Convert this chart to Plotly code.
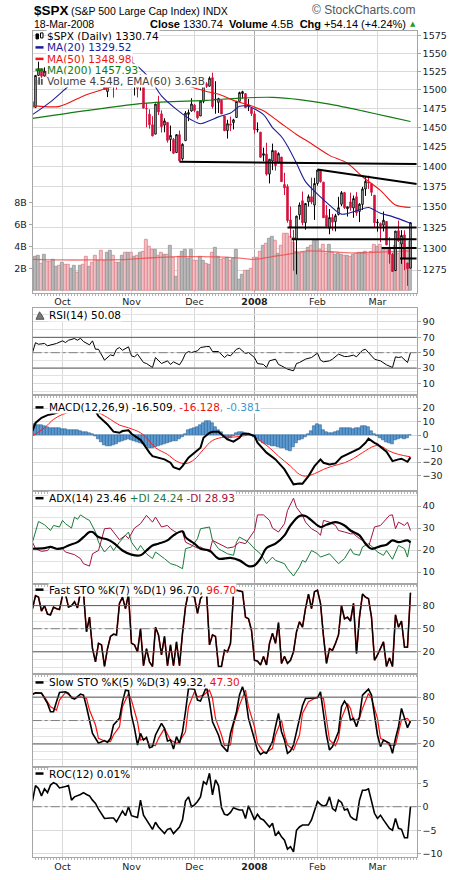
import math
import plotly.graph_objects as go

W, H = 460, 880

# ---------------- data ----------------
tick_days = [10, 33, 54, 74, 95, 115]
tick_text = ["Oct", "Nov", "Dec", "<b>2008</b>", "Feb", "Mar"]

opens = [1484.2, 1476.6, 1519.8, 1529.0, 1518.8, 1525.8, 1516.3, 1518.6, 1527.3, 1531.2,
         1527.3, 1547.0, 1545.8, 1539.9, 1543.8, 1556.5, 1553.2, 1565.2, 1564.7, 1555.4,
         1562.3, 1547.8, 1544.4, 1539.3, 1540.0, 1497.8, 1509.3, 1516.6, 1516.2, 1522.2,
         1536.9, 1539.4, 1532.2, 1545.8, 1511.1, 1505.6, 1505.3, 1515.5, 1475.3, 1467.6,
         1453.7, 1441.4, 1483.4, 1468.0, 1453.1, 1456.7, 1434.5, 1434.7, 1417.6, 1440.7,
         1409.6, 1432.9, 1467.4, 1471.8, 1479.6, 1471.3, 1465.2, 1484.6, 1508.6, 1505.1,
         1516.7, 1487.6, 1483.3, 1486.2, 1465.1, 1445.9, 1454.7, 1456.4, 1463.2, 1484.6,
         1495.1, 1495.1, 1479.8, 1475.3, 1468.0, 1447.6, 1444.0, 1414.1, 1415.7, 1390.3,
         1406.8, 1419.9, 1404.5, 1411.9, 1377.4, 1374.8, 1333.9, 1312.9, 1310.4, 1340.1,
         1357.3, 1330.7, 1355.9, 1362.2, 1352.0, 1378.6, 1395.4, 1380.3, 1339.5, 1324.0,
         1336.9, 1331.9, 1340.6, 1353.1, 1367.3, 1347.5, 1355.9, 1348.4, 1362.2, 1344.2,
         1352.8, 1371.8, 1379.0, 1378.2, 1364.1, 1330.5, 1329.6, 1327.7, 1332.2, 1301.5,
         1293.2, 1274.4, 1321.1, 1305.3, 1316.1, 1283.2, 1277.2]
highs = [1484.2, 1519.9, 1538.7, 1529.0, 1530.9, 1532.4, 1518.3, 1529.4, 1532.5, 1533.7,
         1549.0, 1548.0, 1545.8, 1544.0, 1561.9, 1556.5, 1565.3, 1565.4, 1576.1, 1563.0,
         1564.7, 1547.8, 1550.7, 1542.8, 1540.0, 1508.1, 1520.0, 1517.2, 1523.2, 1535.5,
         1544.7, 1539.4, 1552.8, 1545.8, 1513.2, 1510.8, 1520.8, 1515.5, 1482.5, 1474.1,
         1464.9, 1481.4, 1492.1, 1472.7, 1462.2, 1456.7, 1452.6, 1436.4, 1440.9, 1446.1,
         1429.5, 1471.6, 1473.8, 1488.9, 1481.2, 1471.3, 1486.1, 1508.0, 1510.6, 1518.3,
         1523.6, 1511.9, 1489.4, 1486.7, 1465.1, 1460.2, 1464.4, 1461.5, 1485.4, 1497.6,
         1498.9, 1495.1, 1488.0, 1475.8, 1471.8, 1456.8, 1444.0, 1423.9, 1430.3, 1409.2,
         1429.1, 1419.9, 1417.9, 1411.9, 1392.0, 1377.7, 1350.3, 1322.1, 1339.0, 1355.2,
         1368.6, 1354.0, 1364.9, 1385.9, 1385.6, 1396.0, 1395.4, 1380.3, 1352.0, 1347.3,
         1341.2, 1341.4, 1362.1, 1369.2, 1368.2, 1350.0, 1367.3, 1363.7, 1367.9, 1354.3,
         1374.4, 1387.3, 1388.3, 1378.2, 1364.1, 1335.1, 1331.0, 1344.2, 1332.2, 1313.2,
         1295.0, 1320.7, 1333.3, 1321.7, 1321.5, 1283.2, 1330.8]
lows = [1471.8, 1476.6, 1519.8, 1516.4, 1518.8, 1516.2, 1507.1, 1518.6, 1525.8, 1521.0,
        1527.3, 1540.4, 1536.3, 1537.6, 1543.8, 1549.0, 1551.8, 1555.5, 1546.7, 1554.1,
        1540.8, 1536.3, 1526.0, 1531.8, 1500.3, 1490.4, 1504.0, 1489.6, 1500.5, 1520.2,
        1536.9, 1529.8, 1529.4, 1506.7, 1492.5, 1489.9, 1499.1, 1475.0, 1450.3, 1448.5,
        1438.5, 1441.4, 1466.5, 1443.5, 1443.8, 1430.4, 1419.3, 1415.6, 1417.6, 1406.1,
        1407.4, 1432.9, 1458.4, 1470.9, 1470.1, 1460.7, 1465.2, 1482.2, 1502.7, 1504.7,
        1475.0, 1468.2, 1469.2, 1467.8, 1445.4, 1435.6, 1445.3, 1447.5, 1463.2, 1484.6,
        1488.5, 1475.9, 1471.7, 1465.1, 1442.1, 1443.7, 1411.2, 1406.5, 1388.3, 1378.7,
        1395.3, 1394.8, 1404.5, 1380.6, 1364.3, 1330.7, 1312.5, 1274.3, 1270.1, 1334.3,
        1327.5, 1322.3, 1350.3, 1353.0, 1334.1, 1375.9, 1379.7, 1336.6, 1324.3, 1316.8,
        1321.1, 1320.3, 1339.4, 1350.8, 1347.3, 1338.1, 1345.1, 1336.6, 1339.0, 1331.4,
        1346.0, 1363.3, 1372.0, 1363.2, 1325.4, 1320.0, 1307.4, 1320.2, 1304.0, 1282.4,
        1272.7, 1274.4, 1307.9, 1282.1, 1274.9, 1257.0, 1277.2]
closes = [1476.65, 1519.78, 1529.03, 1518.75, 1525.75, 1517.73, 1517.21, 1525.42, 1531.38, 1526.75,
          1547.04, 1546.63, 1539.59, 1542.84, 1557.59, 1552.58, 1565.15, 1562.47, 1554.41, 1561.80,
          1548.71, 1538.53, 1541.24, 1540.08, 1500.63, 1506.33, 1519.59, 1515.88, 1514.40, 1535.28,
          1540.98, 1531.02, 1549.38, 1508.44, 1509.65, 1502.17, 1520.27, 1475.62, 1474.77, 1453.70,
          1439.18, 1481.05, 1470.58, 1451.15, 1458.74, 1433.27, 1439.70, 1416.77, 1440.70, 1407.22,
          1428.23, 1469.02, 1469.72, 1481.14, 1472.42, 1462.79, 1485.01, 1507.34, 1504.66, 1515.96,
          1477.65, 1486.59, 1488.41, 1467.95, 1445.90, 1454.98, 1453.00, 1460.12, 1484.46, 1496.45,
          1497.66, 1476.27, 1478.49, 1468.36, 1447.16, 1447.16, 1411.63, 1416.18, 1390.19, 1409.13,
          1420.33, 1401.02, 1416.25, 1380.95, 1373.20, 1333.25, 1325.19, 1310.50, 1338.60, 1352.07,
          1330.61, 1353.96, 1362.30, 1355.81, 1378.55, 1395.42, 1380.82, 1336.64, 1326.45, 1336.91,
          1331.29, 1339.13, 1348.86, 1367.21, 1348.86, 1349.99, 1348.78, 1360.03, 1342.53, 1353.11,
          1371.80, 1381.29, 1380.02, 1367.68, 1330.63, 1331.34, 1326.75, 1333.70, 1304.34, 1293.37,
          1273.37, 1320.65, 1308.77, 1315.48, 1288.14, 1276.60, 1330.74]
volume_b = [2.1, 3.1, 3.2, 2.45, 3.3, 2.65, 2.65, 2.8, 2.2, 2.3,
            2.55, 2.35, 2.35, 2.0, 2.3, 1.65, 2.3, 2.4, 3.1, 2.2,
            2.6, 3.2, 2.7, 3.65, 2.7, 3.45, 3.65, 3.2, 2.6, 2.55,
            3.2, 3.45, 3.45, 3.45, 3.1, 3.2, 3.5, 3.6, 4.65, 4.0,
            3.7, 3.7, 3.2, 3.45, 3.3, 3.3, 4.1, 3.0, 1.27, 3.1,
            3.6, 3.75, 2.9, 3.75, 2.7, 2.7, 3.1, 2.7, 2.5, 2.4,
            3.5, 3.95, 3.1, 2.85, 2.9, 3.0, 2.75, 2.9, 3.75, 1.05,
            1.5, 1.85, 1.85, 2.0, 3.0, 3.0, 3.6, 4.1, 4.3, 4.7,
            4.9, 4.6, 3.4, 4.1, 5.2, 5.2, 4.9, 4.4, 3.6, 3.4,
            3.5, 3.5, 3.9, 4.1, 4.6, 4.6, 3.7, 4.2, 3.4, 4.2,
            3.5, 3.3, 3.4, 3.3, 3.2, 3.2, 3.1, 3.3, 3.4, 3.5,
            3.5, 3.6, 3.3, 3.6, 4.2, 4.0, 4.2, 3.9, 3.7, 3.8,
            3.3, 4.1, 3.4, 4.4, 4.2, 3.9, 4.5]
vema_day = [0, 10, 20, 32, 40, 48, 56, 64, 70, 74, 80, 86, 91, 96, 102, 108, 114, 120, 126]
vema_val = [2.85, 2.8, 2.8, 2.85, 3.0, 3.1, 3.1, 3.05, 2.95, 2.85, 3.1, 3.35, 3.6, 3.6, 3.5, 3.45, 3.5, 3.55, 3.63]

ma20_day = [0, 6, 12, 18, 24, 28, 33, 39, 43, 48, 53, 56, 59, 62, 66, 69, 72, 77, 80, 83, 85, 88, 91, 96, 99, 103, 108, 112, 116, 120, 126]
ma20_val = [1467, 1484, 1505, 1524, 1536, 1540, 1538, 1516, 1492, 1474, 1460, 1455, 1459, 1464, 1469, 1478, 1478, 1467, 1450, 1438, 1426, 1404, 1381, 1362, 1352, 1341, 1345, 1349, 1342, 1338, 1330]
ma50_day = [0, 9, 17, 23, 28, 35, 42, 49, 58, 63, 67, 72, 77, 82, 88, 93, 99, 105, 110, 116, 121, 126]
ma50_val = [1479, 1478, 1492, 1500, 1506, 1510, 1511, 1508, 1498, 1493, 1486, 1480, 1472, 1458, 1441, 1429, 1414, 1404, 1387, 1370, 1352, 1349]
ma200_day = [0, 37, 58, 69, 80, 89, 99, 110, 119, 126]
ma200_val = [1462, 1482, 1486, 1489, 1490, 1487, 1481, 1472, 1464, 1458]

# hand-drawn trend lines: (day0, price0, day1, price1)
trendlines = [(49, 1406, 128.1, 1403), (95, 1396, 128.1, 1378), (85, 1325, 128.1, 1325),
              (86.4, 1311, 128.1, 1311), (116.4, 1300.5, 128.1, 1300.5), (122.5, 1288.4, 128.1, 1288.4)]

rsi_day = [0, 1, 2, 4, 5, 6, 8, 10, 11, 12, 14, 15, 16, 17, 19, 20, 21, 22, 24, 26, 27, 28, 29, 30, 32, 33, 34, 35, 37, 38, 40, 41, 42, 43, 45, 46, 47, 49, 50, 51, 52, 53, 55, 56, 58, 59, 60, 62, 64, 65, 66, 68, 69, 71, 72, 74, 75, 77, 78, 79, 81, 82, 83, 85, 87, 88, 89, 91, 93, 95, 96, 97, 99, 100, 102, 104, 105, 107, 108, 110, 111, 112, 114, 115, 116, 118, 120, 121, 122, 123, 125, 126]
rsi_val = [50, 63, 61, 62, 59, 60, 62, 65.4, 63.2, 66.2, 68.4, 66.2, 68.8, 64.5, 60.2, 65.4, 54.5, 54.5, 40.3, 47.2, 45.9, 54.5, 56.7, 53.2, 57.6, 45.9, 44.6, 48.1, 37.2, 35.9, 30.7, 43.7, 39.4, 35.9, 39.4, 34.7, 38.1, 34.2, 40.3, 48.9, 51.5, 50.2, 52.4, 56.7, 58.0, 58.0, 51.5, 51.5, 43.7, 47.2, 45.9, 54.5, 55.8, 48.9, 50.2, 43.7, 35.9, 34.7, 30.7, 39.4, 41.6, 34.7, 32.9, 28.6, 26.4, 35.9, 37.2, 41.6, 43.7, 49.4, 40.3, 38.1, 39.4, 41.6, 48.1, 45.0, 45.0, 46.8, 44.6, 53.2, 54.5, 50.2, 41.6, 40.3, 39.4, 34.2, 30.7, 44.6, 43.7, 44.6, 37.2, 50.08]

macd_day = [0, 1, 3, 5, 7, 9, 11, 13, 15, 17, 19, 21, 22, 25, 27, 29, 30, 32, 33, 35, 36, 37, 38, 39, 40, 41, 44, 46, 47, 49, 50, 52, 54, 56, 57, 59, 60, 62, 65, 67, 69, 70, 72, 74, 75, 78, 80, 81, 84, 86, 87, 89, 90, 92, 94, 96, 97, 99, 101, 103, 105, 107, 109, 111, 112, 114, 115, 118, 120, 122, 123, 125, 126]
macd_val = [3, 9, 12.8, 14.8, 15.8, 17.3, 19.5, 21, 22, 21.5, 19.5, 17.8, 14, 7.9, 2.5, 1.7, 3, 3.5, 1, -2, -3.5, -6.5, -10, -13, -15.6, -16.3, -18, -20.5, -23.7, -25.4, -23, -16.8, -13, -9.4, -2, 1.7, 2.5, 2.5, -3.2, -4.9, -2, 1, 1, -0.7, -5.7, -13, -16.3, -18, -25.4, -32.8, -36.5, -35.8, -36, -30.4, -23, -18, -20.5, -21.7, -21, -16.3, -14.3, -12.3, -9.9, -5.7, -2.7, -5.7, -6.9, -12.3, -19.3, -18, -17.5, -19.8, -16.509]
signal_day = [0, 4, 7, 10, 14, 18, 22, 26, 29, 32, 36, 38, 41, 45, 48, 51, 54, 57, 60, 64, 67, 70, 73, 76, 79, 82, 86, 89, 91, 94, 97, 100, 104, 107, 110, 114, 116, 119, 122, 126]
signal_val = [-0.7, 5.4, 11.6, 15.3, 17.8, 18.5, 16.5, 11.6, 7.4, 5.4, 1.7, -2, -9.4, -14.3, -19.3, -21.2, -18, -10.6, -4, -1.5, -1.5, -0.7, 0, -4.4, -9.4, -15.6, -23, -29.1, -30.4, -28.6, -25.4, -23, -20.5, -17.3, -13, -8.1, -8.1, -11.9, -14.3, -16.128]
hist_val = [8, 8, 7.5, 7.5, 7, 6, 5.5, 5.5, 5, 5,
            4.5, 4.5, 4, 4, 3.5, 3.5, 3, 2.5, 2, 1.5,
            0.5, -1, -3, -5, -7.5, -8.5, -8, -7.5, -7, -5.5,
            -4.5, -3.5, -3, -3.5, -4.5, -5, -6, -6.5, -8, -10,
            -10, -9, -8, -7.5, -6.5, -6, -5, -4.5, -4.5, -3,
            -1.5, 1, 3.5, 4.5, 5, 6, 7.5, 9, 10, 10.5,
            8.5, 6, 4, 2.5, -1.5, -3, -2.5, -0.5, 1.5, 2.5,
            2, 1.5, 1, 0, -1.5, -3, -4.5, -6, -7, -7.5,
            -8, -8, -9, -9.5, -10, -11, -11.5, -9, -6, -4,
            -3, -1.5, 1, 3, 6.5, 8, 7.5, 4, 2, 1.5,
            1.5, 2, 3, 5, 5, 5, 5, 4.5, 5, 5.5,
            6.5, 7, 6, 3, 1, -1, -2.5, -4, -5, -6,
            -6.5, -4, -3, -2.5, -3, -2, -0.381]

adx_day = [0, 4, 6, 8, 10, 12, 15, 17, 19, 20, 22, 25, 27, 30, 33, 36, 38, 40, 42, 45, 47, 50, 51, 54, 56, 59, 62, 66, 69, 72, 74, 76, 78, 81, 84, 86, 89, 91, 93, 96, 98, 101, 104, 106, 109, 111, 113, 116, 118, 120, 122, 125, 126]
adx_val = [20.6, 20.9, 21.4, 20.6, 20.9, 22.1, 23.6, 25.9, 28.2, 28.2, 25.9, 24.8, 23.3, 19.8, 17.9, 17.6, 19.8, 22.1, 22.9, 24.4, 26.7, 28.5, 25.9, 22.9, 20.6, 19.8, 16.1, 16.4, 15.3, 12.7, 13.0, 16.1, 20.9, 22.9, 26.7, 31.2, 35.5, 35.5, 33.5, 30.5, 31.5, 32.7, 31.2, 28.9, 26.7, 22.9, 20.6, 21.8, 22.4, 24.4, 23.6, 24.4, 23.46]
pdi_day = [0, 2, 4, 6, 7, 9, 10, 11, 13, 14, 15, 16, 18, 19, 21, 22, 24, 26, 27, 29, 31, 32, 33, 35, 36, 38, 40, 41, 44, 46, 48, 50, 51, 53, 55, 56, 59, 60, 62, 65, 67, 68, 69, 71, 72, 74, 76, 78, 80, 81, 84, 85, 87, 89, 90, 91, 93, 95, 96, 99, 101, 102, 104, 106, 107, 109, 110, 112, 114, 115, 117, 118, 120, 121, 122, 124, 125, 126]
pdi_val = [23.6, 33.0, 31.5, 28.9, 31.2, 30.5, 33.5, 32.0, 30.0, 35.0, 34.0, 36.0, 34.2, 33.5, 28.2, 23.6, 19.1, 22.1, 19.8, 23.6, 26.7, 28.2, 23.6, 19.8, 22.1, 18.3, 16.1, 19.1, 16.1, 13.8, 13.0, 11.5, 20.6, 21.4, 25.2, 29.7, 30.5, 24.4, 20.6, 18.3, 17.6, 23.6, 25.9, 24.4, 23.6, 20.6, 18.3, 13.8, 16.8, 15.3, 13.8, 11.5, 8.2, 12.3, 15.3, 14.5, 19.8, 18.3, 16.8, 18.3, 15.3, 13.8, 16.1, 20.6, 18.3, 17.6, 21.4, 22.9, 20.6, 19.1, 17.6, 19.8, 15.8, 19.1, 22.1, 20.6, 16.8, 24.24]
mdi_day = [0, 1, 3, 5, 6, 8, 10, 11, 14, 16, 17, 19, 20, 22, 24, 26, 27, 29, 31, 32, 34, 36, 38, 40, 41, 43, 45, 46, 48, 50, 51, 53, 55, 56, 59, 60, 62, 65, 67, 69, 71, 74, 75, 77, 79, 80, 82, 84, 85, 87, 88, 90, 91, 93, 95, 96, 97, 99, 101, 102, 104, 106, 107, 109, 111, 112, 114, 116, 117, 119, 120, 121, 122, 124, 125, 126]
mdi_val = [23.6, 20.6, 19.4, 19.8, 21.4, 20.6, 20.6, 19.1, 17.9, 16.1, 13.8, 12.7, 18.3, 19.8, 29.7, 30.0, 28.2, 24.7, 26.7, 25.2, 30.0, 32.0, 35.8, 32.7, 35.0, 30.5, 31.2, 29.7, 27.9, 28.5, 23.6, 22.1, 20.9, 21.4, 19.1, 24.4, 22.9, 20.9, 21.4, 23.6, 22.9, 28.9, 36.0, 36.0, 33.5, 30.0, 28.2, 32.0, 38.0, 43.6, 39.4, 35.8, 32.7, 29.7, 28.2, 26.7, 33.5, 32.7, 31.2, 28.9, 28.2, 27.4, 27.4, 25.2, 23.6, 21.4, 30.5, 31.2, 32.7, 35.8, 36.0, 29.7, 32.7, 31.2, 32.7, 28.93]

fsto_val = [76, 93, 91, 73, 80, 69, 68, 78, 76, 75,
            93, 95, 78, 80, 85, 77, 98, 96, 46, 65,
            24, 7, 31, 29, 1, 24, 40, 43, 42, 83,
            91, 76, 95, 31, 29, 20, 50, 2, 24, 7,
            1, 52, 42, 16, 40, 2, 29, 2, 33, 2,
            44, 78, 98, 93, 91, 70, 89, 95, 98, 29,
            42, 40, 1, 1, 22, 20, 31, 95, 100, 99,
            98, 65, 63, 48, 9, 8, 3, 14, 3, 31,
            44, 31, 58, 5, 14, 5, 9, 20, 46, 59,
            52, 76, 95, 76, 98, 100, 83, 40, 5, 24,
            22, 31, 42, 80, 63, 65, 60, 83, 18, 65,
            95, 91, 89, 65, 9, 16, 25, 33, 1, 12,
            1, 68, 52, 60, 26, 26, 96.70]

sk_day = [0, 1, 3, 5, 6, 7, 8, 9, 11, 12, 13, 14, 16, 17, 18, 19, 20, 22, 24, 25, 26, 27, 29, 30, 31, 32, 33, 34, 35, 36, 37, 38, 39, 40, 41, 43, 44, 45, 46, 47, 48, 49, 50, 51, 52, 54, 55, 56, 57, 58, 59, 60, 62, 63, 65, 66, 68, 69, 70, 71, 72, 74, 75, 76, 77, 78, 80, 81, 82, 83, 84, 85, 86, 87, 89, 90, 91, 93, 95, 96, 97, 98, 99, 100, 102, 103, 104, 105, 106, 107, 108, 109, 110, 112, 113, 114, 115, 116, 117, 119, 120, 121, 122, 123, 124, 125, 126]
sk_val = [83.4, 85.5, 85.1, 71.9, 61.3, 61.3, 74.0, 86.0, 86.8, 84.7, 79.1, 77.4, 83.8, 82.6, 67.7, 48.5, 33.6, 20.9, 24.3, 22.1, 27.2, 44.3, 52.8, 74.0, 88.9, 88.1, 57.0, 40.0, 18.7, 33.6, 25.1, 28.5, 15.3, 16.6, 31.5, 46.4, 40.0, 23.8, 25.1, 13.6, 29.4, 20.9, 35.7, 61.3, 91.1, 90.2, 76.2, 74.9, 84.7, 93.2, 74.0, 48.5, 31.5, 18.7, 10.2, 33.6, 61.3, 82.6, 93.2, 80.4, 52.8, 27.2, 12.3, 6.8, 9.4, 8.1, 23.0, 42.1, 59.1, 35.7, 25.1, 8.1, 11.1, 18.7, 50.6, 68.9, 78.3, 79.1, 79.1, 86.8, 57.0, 31.5, 12.3, 16.6, 35.7, 67.7, 74.9, 68.9, 50.6, 52.8, 42.1, 54.9, 82.6, 90.2, 82.6, 57.0, 31.5, 16.6, 25.1, 20.9, 8.1, 27.2, 42.1, 65.5, 52.8, 40.9, 49.32]
sd_day = [0, 3, 4, 6, 8, 9, 11, 12, 14, 16, 18, 19, 21, 22, 24, 26, 27, 29, 30, 32, 33, 35, 36, 38, 39, 41, 42, 44, 45, 46, 48, 49, 51, 52, 54, 55, 57, 59, 60, 61, 63, 64, 66, 67, 69, 71, 72, 74, 75, 77, 78, 80, 81, 83, 84, 85, 87, 89, 90, 92, 94, 95, 97, 98, 99, 101, 102, 103, 105, 106, 107, 109, 110, 112, 113, 115, 116, 118, 119, 121, 122, 123, 125, 126]
sd_val = [84.7, 84.7, 80.4, 67.7, 63.4, 76.2, 86.0, 83.4, 78.3, 80.4, 78.3, 63.4, 44.3, 27.2, 23.8, 23.0, 31.5, 42.1, 67.7, 84.7, 76.2, 48.5, 25.1, 27.2, 18.7, 17.9, 27.2, 40.0, 31.5, 25.1, 20.9, 23.0, 35.7, 67.7, 86.8, 80.4, 82.6, 88.9, 78.3, 52.8, 31.5, 17.9, 18.7, 44.3, 69.8, 88.9, 67.7, 42.1, 20.9, 10.2, 9.4, 14.5, 31.5, 50.6, 31.5, 18.7, 12.3, 31.5, 59.1, 74.0, 78.3, 80.4, 78.3, 48.5, 25.1, 17.9, 27.2, 52.8, 71.9, 65.5, 49.4, 52.8, 65.5, 84.7, 78.3, 52.8, 27.2, 23.0, 17.9, 18.7, 33.6, 50.6, 52.8, 47.30]

roc_day = [0, 1, 2, 3, 4, 5, 6, 7, 8, 9, 11, 12, 13, 14, 16, 17, 18, 19, 20, 21, 22, 24, 26, 27, 28, 29, 30, 31, 32, 33, 34, 35, 36, 37, 38, 39, 40, 41, 42, 43, 44, 45, 46, 47, 48, 49, 50, 51, 52, 53, 54, 55, 56, 57, 58, 59, 60, 61, 62,
           63, 64, 65, 66, 67, 68, 69, 70, 71, 72, 73, 74, 75, 76, 77, 79, 80, 81, 82, 83, 84, 85, 86, 87, 88, 89, 90, 92, 93, 95, 96, 97, 98, 99, 100, 101, 102, 103, 104, 105, 106, 107, 108, 109, 110, 111, 112, 113, 114, 115, 116, 117, 119, 120, 121, 122, 123, 124, 125, 126]
roc_val = [1.2, 4.5, 3.9, 2.3, 3.8, 3.0, 4.6, 5.1, 4.8, 4.0, 4.3, 4.5, 1.4, 2.1, 2.6, 3.0, 2.6, 2.3, 1.4, 0.7, -0.5, -2.5, -2.4, -2.4, -3.2, -1.9, -0.9, -1.9, 0.0, -1.9, -2.1, -2.3, 1.4, -1.8, -2.8, -3.9, -4.8, -3.3, -4.3, -5.0, -5.7, -4.8, -4.6, -5.7, -5.0, -4.3, -2.8, 1.2, 2.1, 0.0, 0.4, 1.1, 2.1, 5.3, 4.8, 7.1, 2.5, 5.7, 4.5,
           -0.2, -1.6, -1.8, -1.2, -0.2, -0.5, -0.7, -0.7, -2.5, 0.2, -1.4, -2.8, -1.6, -2.5, -2.8, -4.3, -3.5, -6.2, -5.3, -6.4, -7.1, -9.0, -8.5, -9.6, -5.0, -4.3, -3.9, -3.9, -2.8, 1.1, 0.5, 0.1, 0.4, 2.1, -0.4, -0.9, 1.4, 0.9, -0.7, -0.5, -2.1, -2.6, -2.8, 1.4, 3.5, 3.5, 3.8, 1.4, -1.4, -2.5, -1.8, -2.8, -4.6, -5.0, -2.5, -4.6, -4.8, -6.6, -6.6, 0.01]

# ---------------- layout helpers ----------------
FONT = "DejaVu Sans"
HFONT = "Liberation Sans"
days = list(range(len(closes)))
XL, XR = 32.7, 416.7
x_range = [0.07, 128.07]

panels = [  # (top px, bottom px)
    (30.7, 293.3),   # price
    (308.3, 396.0),  # rsi
    (396.0, 492.5),  # macd
    (492.5, 585.0),  # adx
    (585.0, 676.0),  # fast sto
    (676.0, 768.3),  # slow sto
    (768.3, 859.3),  # roc
]


def dom(p):
    t, b = p
    return [1 - b / H, 1 - t / H]


fig = go.Figure()

# ---- volume (base axis of price panel) ----
up = [closes[i] >= (closes[i - 1] if i > 0 else opens[i]) for i in days]
fig.add_trace(go.Bar(x=days, y=volume_b, xaxis="x", yaxis="y", width=0.95,
                     marker=dict(color=["#b9b9b9" if u else "#f1c0c5" for u in up],
                                 line=dict(color=["#8e8e8e" if u else "#e0777f" for u in up], width=0.7)),
                     hoverinfo="skip"))
fig.add_trace(go.Scatter(x=vema_day, y=vema_val, xaxis="x", yaxis="y", mode="lines",
                         line=dict(color="rgba(240,70,70,0.75)", width=1.3, shape="spline"), hoverinfo="skip"))

# ---- moving averages ----
for d, v, c in [(ma200_day, ma200_val, "#117a11"), (ma50_day, ma50_val, "#ee1515"), (ma20_day, ma20_val, "#1c1c96")]:
    fig.add_trace(go.Scatter(x=d, y=v, xaxis="x", yaxis="y8", mode="lines",
                             line=dict(color=c, width=1.1, shape="spline", smoothing=0.8), hoverinfo="skip"))

# ---- candles: black when up vs previous close, red when down; hollow when close > open ----
RED = "#d4103c"
for flag, col in [(True, "#000000"), (False, RED)]:
    idx = [i for i in days if up[i] == flag]
    fig.add_trace(go.Candlestick(
        x=[days[i] for i in idx], open=[opens[i] for i in idx], high=[highs[i] for i in idx],
        low=[lows[i] for i in idx], close=[closes[i] for i in idx], xaxis="x", yaxis="y8",
        increasing=dict(line=dict(color=col, width=1), fillcolor="white"),
        decreasing=dict(line=dict(color=col, width=1), fillcolor=col),
        whiskerwidth=0, hoverinfo="skip"))

for (d0, p0, d1, p1) in trendlines:
    fig.add_trace(go.Scatter(x=[d0, d1], y=[p0, p1], xaxis="x", yaxis="y8", mode="lines",
                             line=dict(color="black", width=2), hoverinfo="skip"))

# ---- RSI ----
fig.add_trace(go.Scatter(x=rsi_day, y=rsi_val, xaxis="x2", yaxis="y2", mode="lines",
                         line=dict(color="black", width=1), hoverinfo="skip"))
# ---- MACD ----
fig.add_trace(go.Bar(x=days, y=hist_val, xaxis="x3", yaxis="y3", width=1,
                     marker=dict(color="#5b9bd3", line=dict(color="#2a5f94", width=0.6)), hoverinfo="skip"))
fig.add_trace(go.Scatter(x=signal_day, y=signal_val, xaxis="x3", yaxis="y3", mode="lines",
                         line=dict(color="#ff1a1a", width=1, shape="spline"), hoverinfo="skip"))
fig.add_trace(go.Scatter(x=macd_day, y=macd_val, xaxis="x3", yaxis="y3", mode="lines",
                         line=dict(color="black", width=2), hoverinfo="skip"))
# ---- ADX ----
fig.add_trace(go.Scatter(x=pdi_day, y=pdi_val, xaxis="x4", yaxis="y4", mode="lines",
                         line=dict(color="#1a7a3a", width=1), hoverinfo="skip"))
fig.add_trace(go.Scatter(x=mdi_day, y=mdi_val, xaxis="x4", yaxis="y4", mode="lines",
                         line=dict(color="#a3123f", width=1), hoverinfo="skip"))
fig.add_trace(go.Scatter(x=adx_day, y=adx_val, xaxis="x4", yaxis="y4", mode="lines",
                         line=dict(color="black", width=2.2, shape="spline"), hoverinfo="skip"))
# ---- Fast STO (%D(1) coincides with %K) ----
fig.add_trace(go.Scatter(x=days, y=fsto_val, xaxis="x5", yaxis="y5", mode="lines",
                         line=dict(color="#c01010", width=1.6), hoverinfo="skip"))
fig.add_trace(go.Scatter(x=days, y=fsto_val, xaxis="x5", yaxis="y5", mode="lines",
                         line=dict(color="#000000", width=1.3), hoverinfo="skip"))
# ---- Slow STO ----
fig.add_trace(go.Scatter(x=sd_day, y=sd_val, xaxis="x6", yaxis="y6", mode="lines",
                         line=dict(color="#ff1010", width=1.2), hoverinfo="skip"))
fig.add_trace(go.Scatter(x=sk_day, y=sk_val, xaxis="x6", yaxis="y6", mode="lines",
                         line=dict(color="black", width=1.6), hoverinfo="skip"))
# ---- ROC ----
fig.add_trace(go.Scatter(x=roc_day, y=roc_val, xaxis="x7", yaxis="y7", mode="lines",
                         line=dict(color="black", width=1.6), hoverinfo="skip"))

# ---------------- axes ----------------
tickfont = dict(family=FONT, size=9.5, color="#222")
xbase = dict(domain=[XL / W, XR / W], range=x_range, tickmode="array", tickvals=tick_days,
             ticktext=tick_text, showgrid=False, zeroline=False,
             showline=True, mirror=True, linecolor="#a6a6a6", linewidth=1, ticks="",
             tickfont=tickfont, fixedrange=True,
             minor=dict(tickmode="linear", tick0=0, dtick=1, ticks="outside", ticklen=2,
                        tickcolor="#b4b4b4", showgrid=False))
ybase = dict(side="right", showline=True, mirror=True, linecolor="#a6a6a6", linewidth=1,
             zeroline=False, ticks="outside", ticklen=3, tickcolor="#a6a6a6", tickfont=tickfont,
             showgrid=True, gridcolor="#dadada", fixedrange=True)

lay = {}
for k in range(1, 8):
    xn = "xaxis" if k == 1 else f"xaxis{k}"
    yn = "yaxis" if k == 1 else f"yaxis{k}"
    xd = dict(xbase)
    xd["anchor"] = "y" if k == 1 else f"y{k}"
    if k > 1:
        xd["matches"] = "x"
    xd["showticklabels"] = k in (1, 7)
    xd["rangeslider"] = dict(visible=False)
    lay[xn] = xd
    yd = dict(ybase)
    yd["domain"] = dom(panels[k - 1])
    yd["anchor"] = "x" if k == 1 else f"x{k}"
    lay[yn] = yd

# volume axis (left)
lay["yaxis"].update(side="left", range=[-0.18, 23.7], tickvals=[2, 4, 6, 8],
                    ticktext=["2B", "4B", "6B", "8B"], showgrid=False)
# price axis (right, log)
lay["yaxis8"] = dict(ybase, overlaying="y", anchor="x", type="log",
                     range=[math.log10(1249.3), math.log10(1582.5)],
                     tickvals=list(range(1275, 1576, 25)), showline=False)
lay["yaxis2"].update(range=[-5.2, 108.7], tickvals=[10, 30, 50, 70, 90],
                     minor=dict(tickmode="linear", tick0=0, dtick=10, showgrid=True, gridcolor="#e2e2e2"))
lay["yaxis3"].update(range=[-41.7, 29.6], tickvals=[-30, -20, -10, 0, 10, 20])
lay["yaxis4"].update(range=[4.7, 46.7], tickvals=[10, 20, 30, 40],
                     minor=dict(tickmode="linear", tick0=0, dtick=5, showgrid=True, gridcolor="#e2e2e2"))
lay["yaxis5"].update(range=[-9.4, 108.5], tickvals=[20, 50, 80],
                     minor=dict(tickmode="linear", tick0=0, dtick=10, showgrid=True, gridcolor="#e2e2e2"))
lay["yaxis6"].update(range=[-8.9, 109.0], tickvals=[20, 50, 80],
                     minor=dict(tickmode="linear", tick0=0, dtick=10, showgrid=True, gridcolor="#e2e2e2"))
lay["yaxis7"].update(range=[-10.76, 8.54], tickvals=[-10, -5, 0, 5])

# ---------------- shapes ----------------
shapes = []
# vertical month gridlines (the year boundary drawn darker)
for k in range(1, 8):
    xr_ = "x" if k == 1 else f"x{k}"
    yr_ = "y" if k == 1 else f"y{k}"
    for j, td in enumerate(tick_days):
        shapes.append(dict(type="line", xref=xr_, yref=f"{yr_} domain", x0=td, x1=td,
                           y0=0, y1=1, line=dict(color="#a9a9a9" if j == 3 else "#dadada", width=1),
                           layer="below"))


def hline(k, val, dash="solid", color="#5a5a5a"):
    shapes.append(dict(type="line", xref=f"x{k} domain", yref=f"y{k}", x0=0, x1=1, y0=val, y1=val,
                       line=dict(color=color, width=1, dash=dash), layer="above"))


hline(2, 70); hline(2, 30); hline(2, 50, "dashdot", "#808080")
hline(5, 80); hline(5, 20); hline(5, 50, "dashdot", "#808080")
hline(6, 80); hline(6, 20); hline(6, 50, "dashdot", "#808080")
hline(7, 0, "dashdot", "#808080")


def dash_mark(ypx, color):
    shapes.append(dict(type="line", xref="paper", yref="paper", x0=35.5 / W, x1=43.5 / W,
                       y0=1 - ypx / H, y1=1 - ypx / H, line=dict(color=color, width=2.5), layer="above"))


# ---------------- annotations ----------------
anns = []


def ann(text, xpx, ypx, size=10.5, color="#000", family=FONT, xanchor="left", bg="white"):
    d = dict(text=text, x=xpx / W, y=1 - ypx / H, xref="paper", yref="paper",
             xanchor=xanchor, yanchor="middle", showarrow=False,
             font=dict(family=family, size=size, color=color), borderpad=0)
    if bg:
        d["bgcolor"] = bg
    anns.append(d)


# header
ann("<b>$SPX</b>", 32.5, 10.5, size=13.5, family=HFONT, bg=None)
ann("(S&P 500 Large Cap Index) INDX", 69.5, 11, size=10.5, family=HFONT, bg=None)
ann("© StockCharts.com", 416.5, 10.5, size=12, family=HFONT, color="#555", xanchor="right", bg=None)
ann("18-Mar-2008", 32.5, 24, size=10.5, family=HFONT, bg=None)
ann("<b>Close</b> 1330.74  <b>Volume</b> 4.5B  <b>Chg</b> +54.14 (+4.24%)", 406.5, 24, size=11,
    family=HFONT, xanchor="right", bg=None)
ann("▲", 409, 24.5, size=7, color="#2a9a2a", family=FONT, bg=None)

# price panel legend
ann("$SPX (Daily) 1330.74", 46, 36.5)
ann("MA(20) 1329.52", 45.7, 47.5, color="#1c1c96")
ann("MA(50) 1348.98", 45.7, 59, color="#ee1515")
ann("MA(200) 1457.93", 45.7, 70, color="#117a11")
ann("Volume 4.54B, EMA(60) 3.63B", 45.7, 81, color="#444")
dash_mark(47.5, "#1c1c96"); dash_mark(59, "#ee1515"); dash_mark(70, "#117a11")
# candle icon and volume icon
shapes.append(dict(type="rect", xref="paper", yref="paper", x0=36 / W, x1=38.5 / W,
                   y0=1 - 39 / H, y1=1 - 34 / H, line=dict(color="black", width=1), fillcolor="black"))
shapes.append(dict(type="rect", xref="paper", yref="paper", x0=40.5 / W, x1=43 / W,
                   y0=1 - 38 / H, y1=1 - 33 / H, line=dict(color="black", width=1), fillcolor="white"))
for (a, b, t) in [(35.5, 37.3, 80), (38.2, 40.0, 77.5), (40.9, 42.7, 79)]:
    shapes.append(dict(type="rect", xref="paper", yref="paper", x0=a / W, x1=b / W,
                       y0=1 - 85 / H, y1=1 - t / H, line=dict(width=0), fillcolor="#555"))
# RSI icon
shapes.append(dict(type="path", xref="paper", yref="paper",
                   path=f"M {36/W} {1-320/H} L {39.5/W} {1-312.5/H} L {42/W} {1-316/H} L {44/W} {1-320/H} Z",
                   line=dict(color="#555", width=1), fillcolor="#777"))

ann("RSI(14) 50.08", 47.5, 316)
ann('MACD(12,26,9) -16.509<span style="color:#ee1111">, -16.128</span>'
    '<span style="color:#3a9ad0">, -0.381</span>', 47.5, 408.3)
dash_mark(408.3, "black")
ann('ADX(14) 23.46 <span style="color:#1a7a3a">+DI 24.24</span> '
    '<span style="color:#a3123f">-DI 28.93</span>', 47.5, 499.3)
dash_mark(499.3, "black")
ann('Fast STO %K(7) %D(1) 96.70, <span style="color:#ee1111">96.70</span>', 47.5, 591)
dash_mark(591, "black")
ann('Slow STO %K(5) %D(3) 49.32, <span style="color:#ee1111">47.30</span>', 47.5, 684)
dash_mark(684, "black")
ann("ROC(12) 0.01%", 47.5, 775.3)
dash_mark(775.3, "black")

fig.update_layout(width=W, height=H, margin=dict(l=0, r=0, t=0, b=0), autosize=False,
                  paper_bgcolor="white", plot_bgcolor="white", showlegend=False,
                  bargap=0, shapes=shapes, annotations=anns, **lay)

fig.write_html("out.html", post_script="document.body.style.margin='0';")
